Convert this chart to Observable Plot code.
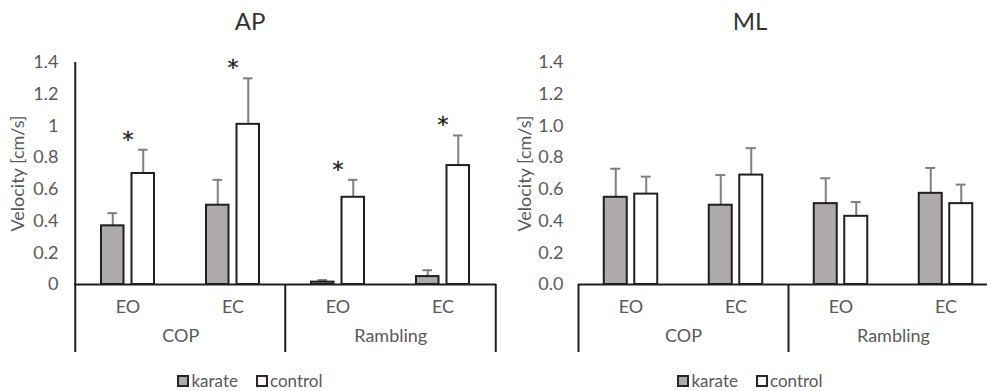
<!DOCTYPE html>
<html>
<head>
<meta charset="utf-8">
<script src="https://cdn.jsdelivr.net/npm/d3@7"></script>
<script src="https://cdn.jsdelivr.net/npm/@observablehq/plot@0.6"></script>
<style>
  html, body { margin: 0; padding: 0; background: #fff; overflow: hidden; }
  body { width: 987px; height: 391px; font-family: Lato, sans-serif; }
  #wrap { display: flex; width: 1000px; }
  .panel { width: 500px; flex: 0 0 500px; }
  .title { height: 40px; box-sizing: border-box; padding-top: 9px; font-size: 24px; line-height: 23px; text-align: center; color: #333; }
  .legend { height: 21px; display: flex; justify-content: center; align-items: center; font-size: 17px; color: #595959; }
  .item { display: flex; align-items: center; margin: 0 9px; }
  .sw { width: 12px; height: 12px; box-sizing: border-box; border: 2px solid #262626; margin-right: 2px; }
</style>
</head>
<body>
<div id="wrap"></div>
<script>
// ---- data ----
const groups = ["COP", "Rambling"];
const conditions = ["EO", "EC"];
const series = ["karate", "control"];
const seriesColors = ["#aeaaaa", "#ffffff"];
const yTicks = [0, 0.2, 0.4, 0.6, 0.8, 1.0, 1.2, 1.4];

// order: COP-EO, COP-EC, Rambling-EO, Rambling-EC
const apKarateMean  = [0.37, 0.50, 0.015, 0.05];
const apKarateSD    = [0.08, 0.16, 0.013, 0.04];
const apControlMean = [0.70, 1.01, 0.55, 0.75];
const apControlSD   = [0.15, 0.29, 0.11, 0.19];
const apSignificant = [true, true, true, true];

const mlKarateMean  = [0.55, 0.50, 0.51, 0.575];
const mlKarateSD    = [0.18, 0.19, 0.16, 0.16];
const mlControlMean = [0.57, 0.69, 0.43, 0.51];
const mlControlSD   = [0.11, 0.17, 0.09, 0.12];
const mlSignificant = [false, false, false, false];

const catKeys = groups.flatMap(g => conditions.map(c => `${g} ${c}`));

function buildRows(kMean, kSD, cMean, cSD) {
  const rows = [];
  catKeys.forEach((key, i) => {
    rows.push({key, series: "karate", mean: kMean[i], sd: kSD[i]});
    rows.push({key, series: "control", mean: cMean[i], sd: cSD[i]});
  });
  return rows;
}

function panel({title, rows, sig, marginLeft, marginRight, tickFormat, tickPadding, labelDx, axisLine}) {
  const W = 500, H = 330, MT = 22, MB = 86;
  const frameH = H - MT - MB;
  const bw = (W - marginLeft - marginRight) / catKeys.length;
  const barW = 23, gap = 7.5, capW = 10, ink = "#1f1f1f", errInk = "#7f7f7f";
  const off = gap / 2 + barW / 2;
  const outer = bw / 2 - gap / 2 - barW;
  const marks = [];

  // category separators below the axis (and y-axis line on the left panel)
  const boundaries = [catKeys[0], catKeys[2]];
  marks.push(Plot.ruleX(boundaries, {x: d => d, dx: -bw / 2, insetTop: frameH, insetBottom: -68, stroke: ink, strokeWidth: 2}));
  marks.push(Plot.ruleX([catKeys[catKeys.length - 1]], {x: d => d, dx: bw / 2, insetTop: frameH, insetBottom: -68, stroke: ink, strokeWidth: 2}));
  if (axisLine) marks.push(Plot.ruleX([catKeys[0]], {x: d => d, dx: -bw / 2, stroke: ink, strokeWidth: 2}));
  marks.push(Plot.ruleY([0], {stroke: ink, strokeWidth: 2}));

  series.forEach((s, i) => {
    const data = rows.filter(d => d.series === s);
    const sign = i === 0 ? -1 : 1;
    marks.push(Plot.ruleX(data, {x: "key", y1: "mean", y2: d => d.mean + d.sd, dx: sign * off, stroke: errInk, strokeWidth: 2}));
    marks.push(Plot.tickY(data, {x: "key", y: d => d.mean + d.sd,
      insetLeft: bw / 2 + sign * off - capW / 2, insetRight: bw / 2 - sign * off - capW / 2,
      stroke: errInk, strokeWidth: 2}));
    marks.push(Plot.barY(data, {x: "key", y: "mean", fill: seriesColors[i], stroke: ink, strokeWidth: 2,
      insetLeft: i === 0 ? outer : bw / 2 + gap / 2,
      insetRight: i === 0 ? bw / 2 + gap / 2 : outer}));
  });

  // significance asterisks
  const sigRows = rows.filter(d => d.series === "control" && sig[catKeys.indexOf(d.key)]);
  marks.push(Plot.text(sigRows, {x: "key", y: d => d.mean + d.sd, text: () => "*", dy: -10,
    fontSize: 22, fontFamily: "DejaVu Sans", fill: "#1a1a1a", stroke: "#1a1a1a", strokeWidth: 0.4}));

  // group labels
  marks.push(Plot.text(groups, {x: g => `${g} ${conditions[0]}`, text: g => g, frameAnchor: "bottom", dx: bw / 2, dy: 57, fontSize: 18, fill: "#595959"}));

  // y axis title
  marks.push(Plot.text(["Velocity [cm/s]"], {frameAnchor: "left", textAnchor: "middle", dx: labelDx, rotate: -90, fontSize: 18, fill: "#595959"}));

  const svg = Plot.plot({
    width: W, height: H, marginTop: MT, marginBottom: MB, marginLeft, marginRight,
    style: {fontFamily: "Lato, sans-serif", fontSize: "18px", color: "#595959", background: "white", overflow: "visible"},
    x: {domain: catKeys, padding: 0, tickSize: 0, tickPadding: 16, tickFormat: d => d.split(" ")[1], label: null},
    y: {domain: [0, 1.4], ticks: yTicks, tickFormat, tickSize: 0, tickPadding, label: null},
    marks
  });

  const div = document.createElement("div");
  div.className = "panel";
  const t = document.createElement("div");
  t.className = "title";
  t.textContent = title;
  div.appendChild(t);
  div.appendChild(svg);
  const lg = document.createElement("div");
  lg.className = "legend";
  series.forEach((s, i) => {
    const it = document.createElement("div");
    it.className = "item";
    const sw = document.createElement("span");
    sw.className = "sw";
    sw.style.background = seriesColors[i];
    const tx = document.createElement("span");
    tx.textContent = s;
    it.appendChild(sw); it.appendChild(tx);
    lg.appendChild(it);
  });
  div.appendChild(lg);
  return div;
}

const wrap = document.getElementById("wrap");
wrap.appendChild(panel({
  title: "AP",
  rows: buildRows(apKarateMean, apKarateSD, apControlMean, apControlSD),
  sig: apSignificant,
  marginLeft: 74, marginRight: 4,
  tickFormat: d => String(+d.toFixed(1)),
  tickPadding: 16, labelDx: -56, axisLine: true
}));
wrap.appendChild(panel({
  title: "ML",
  rows: buildRows(mlKarateMean, mlKarateSD, mlControlMean, mlControlSD),
  sig: mlSignificant,
  marginLeft: 78, marginRight: 2,
  tickFormat: d => d.toFixed(1),
  tickPadding: 15, labelDx: -53, axisLine: false
}));
</script>
</body>
</html>
